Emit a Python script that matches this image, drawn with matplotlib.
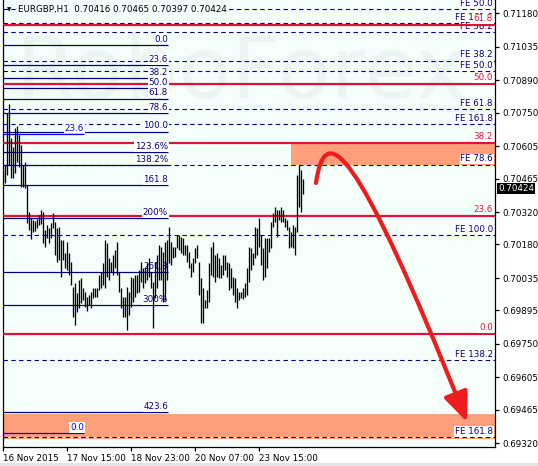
import matplotlib
matplotlib.use("Agg")
import matplotlib.pyplot as plt
import matplotlib.transforms as mtransforms
from matplotlib.patches import Rectangle, FancyArrowPatch, ArrowStyle
from matplotlib.path import Path

plt.rcParams['font.family'] = ['DejaVu Sans']

# ---------------- data ----------------
symbol = "EURGBP,H1"
last_ohlc = [0.70416, 0.70465, 0.70397, 0.70424]

highs = [
    0.70495, 0.70524, 0.70747, 0.70786, 0.70639, 0.70603, 0.70683, 0.70694, 0.70654, 0.70610,
    0.70524, 0.70538, 0.70437, 0.70322, 0.70293, 0.70286, 0.70282, 0.70290, 0.70308, 0.70329,
    0.70322, 0.70243, 0.70264, 0.70250, 0.70272, 0.70315, 0.70279, 0.70250, 0.70257, 0.70199,
    0.70199, 0.70142, 0.70192, 0.70142, 0.70106, 0.69997, 0.70012, 0.69969, 0.70026, 0.70034,
    0.69990, 0.69976, 0.69954, 0.69961, 0.69976, 0.69990, 0.69990, 0.69993, 0.70048, 0.70062,
    0.70099, 0.70199, 0.70185, 0.70120, 0.70106, 0.70134, 0.70156, 0.70192, 0.70062, 0.69990,
    0.69954, 0.69954, 0.69997, 0.69976, 0.70041, 0.70034, 0.70048, 0.70048, 0.70070, 0.70106,
    0.70077, 0.70077, 0.70099, 0.70120, 0.70062, 0.70019, 0.70106, 0.70134, 0.70178, 0.70170,
    0.70149, 0.70192, 0.70199, 0.70257, 0.70192, 0.70170, 0.70170, 0.70221, 0.70221, 0.70214,
    0.70207, 0.70178, 0.70178, 0.70149, 0.70099, 0.70120, 0.70163, 0.70178, 0.70106, 0.70034,
    0.69990, 0.69940, 0.69983, 0.70099, 0.70170, 0.70192, 0.70134, 0.70142, 0.70120, 0.70091,
    0.70134, 0.70134, 0.70106, 0.70099, 0.70077, 0.70041, 0.70034, 0.69990, 0.69976, 0.69976,
    0.69990, 0.70012, 0.70077, 0.70170, 0.70163, 0.70142, 0.70257, 0.70250, 0.70293, 0.70221,
    0.70163, 0.70207, 0.70207, 0.70207, 0.70279, 0.70315, 0.70343, 0.70329, 0.70329, 0.70343,
    0.70329, 0.70293, 0.70286, 0.70257, 0.70235, 0.70264, 0.70257, 0.70481, 0.70524, 0.70502,
    0.70465,
]
lows = [
    0.70449, 0.70445, 0.70481, 0.70524, 0.70469, 0.70469, 0.70488, 0.70538, 0.70516, 0.70430,
    0.70430, 0.70423, 0.70272, 0.70243, 0.70204, 0.70235, 0.70238, 0.70250, 0.70264, 0.70267,
    0.70185, 0.70170, 0.70207, 0.70185, 0.70207, 0.70250, 0.70134, 0.70106, 0.70113, 0.70041,
    0.70113, 0.70077, 0.70070, 0.70048, 0.70005, 0.69868, 0.69832, 0.69889, 0.69904, 0.69926,
    0.69940, 0.69911, 0.69892, 0.69918, 0.69904, 0.69947, 0.69954, 0.69954, 0.69983, 0.69993,
    0.70005, 0.69990, 0.70041, 0.70026, 0.70062, 0.70048, 0.70077, 0.70048, 0.69976, 0.69904,
    0.69868, 0.69868, 0.69810, 0.69875, 0.69911, 0.69932, 0.69954, 0.69969, 0.69976, 0.70019,
    0.69990, 0.70012, 0.70026, 0.70041, 0.69990, 0.69817, 0.69947, 0.69990, 0.70026, 0.70026,
    0.69932, 0.69940, 0.70026, 0.70099, 0.70091, 0.70120, 0.70127, 0.70163, 0.70156, 0.70142,
    0.70134, 0.70134, 0.70106, 0.70077, 0.70041, 0.70062, 0.70099, 0.70120, 0.69961, 0.69839,
    0.69839, 0.69904, 0.69904, 0.69932, 0.70048, 0.70041, 0.70019, 0.70041, 0.70034, 0.70034,
    0.70048, 0.70070, 0.70041, 0.69983, 0.69990, 0.69961, 0.69932, 0.69904, 0.69940, 0.69947,
    0.69944, 0.69954, 0.69961, 0.70019, 0.70070, 0.70091, 0.70120, 0.70134, 0.70170, 0.70091,
    0.70026, 0.70041, 0.70077, 0.70149, 0.70163, 0.70257, 0.70279, 0.70214, 0.70286, 0.70279,
    0.70279, 0.70257, 0.70243, 0.70163, 0.70170, 0.70163, 0.70134, 0.70235, 0.70343, 0.70322,
    0.70397,
]

date_labels = ["16 Nov 2015", "17 Nov 15:00", "18 Nov 23:00", "20 Nov 07:00", "23 Nov 15:00"]
date_positions = [0, 32, 64, 96, 128]

price_ticks = [0.71180, 0.71035, 0.70890, 0.70750, 0.70605, 0.70465, 0.70320,
               0.70180, 0.70035, 0.69895, 0.69750, 0.69605, 0.69465, 0.69320]

# Fibonacci retracement (navy), drawn over the left part
fibo_a_p0, fibo_a_p100, fibo_a_end = 0.71043, 0.70668, 82.35
fibo_a_levels = [0, 23.6, 38.2, 50, 61.8, 78.6, 100, 123.6, 138.2, 161.8, 200, 261.8, 300, 423.6]
fibo_a_labels = ["0.0", "23.6", "38.2", "50.0", "61.8", "78.6", "100.0", "123.6%", "138.2%",
                 "161.8", "200%", "261.8", "300%", "423.6"]

# Short blue fibo
fibo_b_p0, fibo_b_p100, fibo_b_end = 0.69363, 0.74851, 40.35
fibo_b_levels = [0, 23.6]
fibo_b_labels = ["0.0", "23.6"]

# Red fibo (full width)
fibo_r_p0, fibo_r_p100 = 0.69794, 0.71957
fibo_r_levels = [0, 23.6, 38.2, 50, 61.8]
fibo_r_labels = ["0.0", "23.6", "38.2", "50.0", "61.8"]

# Fibonacci expansion levels (dashed)
fe_prices = [0.71197, 0.71139, 0.71100, 0.70975, 0.70930, 0.70766, 0.70701,
             0.70525, 0.70221, 0.69679, 0.69347]
fe_labels = ["FE 50.0", "FE 161.8", "FE 38.2", "FE 38.2", "FE 50.0", "FE 61.8", "FE 161.8",
             "FE 78.6", "FE 100.0", "FE 138.2", "FE 161.8"]

# target zones
zone_upper = (143.85, 0.70525, 0.70620)   # start bar, low, high
zone_lower = (0.69338, 0.69447)

# forecast arrow (bar index, price)
arrow_pts = [(156.35, 0.70446), (160.85, 0.70718), (175.85, 0.70632), (231.85, 0.69412)]

# ---------------- style ----------------
NAVY = '#000080'
BLUE = '#0000FF'
RED = '#DC143C'
ORANGE = '#FFA07A'
BG = '#F5FFFA'
FS = 6.3

fig = plt.figure(figsize=(5.38, 4.66), dpi=100)
fig.patch.set_facecolor('white')
ax = fig.add_axes([3 / 538, 19 / 466, 492 / 538, 447 / 466])
ax.set_facecolor(BG)
XMAX = 245.85
ax.set_xlim(-0.15, XMAX)
ax.set_ylim(0.69304, 0.712375)

for s in ['left', 'bottom', 'right']:
    ax.spines[s].set_color('black')
    ax.spines[s].set_linewidth(0.9)
ax.spines['top'].set_visible(False)

# watermark
ax.text(0.484, 0.783, "RoboForex", transform=ax.transAxes, ha='center', va='baseline',
        fontsize=62, color='#EBF6F2', zorder=0.5)
ax.text(0.4736, 0.766, "ИСПОЛЬЗУЙ ВОЗМОЖНОСТИ · ПОЛУЧАЙ ПРИБЫЛЬ", transform=ax.transAxes,
        ha='left', va='top', fontsize=6.5, color='#E6F2EE', zorder=0.5)

# zones
ax.add_patch(Rectangle((zone_upper[0], zone_upper[1]), XMAX - zone_upper[0],
                       zone_upper[2] - zone_upper[1], color=ORANGE, lw=0, zorder=1.5))
ax.add_patch(Rectangle((-0.15, zone_lower[0]), XMAX + 0.15, zone_lower[1] - zone_lower[0],
                       color=ORANGE, lw=0, zorder=1.5))

lab_kw = dict(textcoords='offset points', xytext=(0, 0.9), ha='right', va='bottom',
              fontsize=FS)
box = dict(boxstyle='square,pad=0.08', fc='white', ec='none')

# FE dashed lines
label_x_right = 244.85
for p, lab in zip(fe_prices, fe_labels):
    ax.axhline(p, color=NAVY, lw=0.8, ls=(0, (4, 3)), gapcolor='white', zorder=2)
    ax.annotate(lab, xy=(label_x_right, p), color=NAVY, bbox=box, zorder=3, **lab_kw)

# red fibo
for lv, lab in zip(fibo_r_levels, fibo_r_labels):
    p = fibo_r_p0 + (fibo_r_p100 - fibo_r_p0) * lv / 100
    ax.axhline(p, color=RED, lw=1.6, zorder=4)
    ax.annotate(lab, xy=(label_x_right, p), color=RED, bbox=box, zorder=5, **lab_kw)

# navy fibo
for lv, lab in zip(fibo_a_levels, fibo_a_labels):
    p = fibo_a_p0 + (fibo_a_p100 - fibo_a_p0) * lv / 100
    ax.hlines(p, -0.15, fibo_a_end, color=NAVY, lw=0.9, zorder=2.5)
    ax.annotate(lab, xy=(fibo_a_end, p), color=NAVY, bbox=box, zorder=6, **lab_kw)

# blue fibo
for lv, lab in zip(fibo_b_levels, fibo_b_labels):
    p = fibo_b_p0 + (fibo_b_p100 - fibo_b_p0) * lv / 100
    ax.hlines(p, -0.15, fibo_b_end, color=BLUE, lw=0.9, zorder=2.5)
    ax.annotate(lab, xy=(fibo_b_end, p), color=BLUE, bbox=box, zorder=6, **lab_kw)

# price bars
xs = list(range(len(highs)))
ax.vlines(xs, lows, highs, color='black', lw=0.95, zorder=7)

# forecast arrow
path = Path(arrow_pts, [Path.MOVETO, Path.CURVE4, Path.CURVE4, Path.CURVE4])
arr = FancyArrowPatch(path=path, arrowstyle=ArrowStyle('-|>', head_length=1.0, head_width=0.42),
                      mutation_scale=18, color='#EE1C1C', lw=3, zorder=9)
ax.add_patch(arr)

# axes ticks
ax.yaxis.tick_right()
ax.set_yticks(price_ticks)
ax.set_yticklabels([f"{v:.5f}" for v in price_ticks])
ax.tick_params(axis='y', direction='out', length=3, width=0.9, labelsize=FS, pad=2,
               colors='black')
ax.set_xticks(date_positions)
ax.set_xticklabels(date_labels)
ax.tick_params(axis='x', direction='out', length=3, width=0.9, labelsize=FS, pad=2)
for t in ax.get_xticklabels():
    t.set_ha('left')

# current price label
trans = mtransforms.blended_transform_factory(ax.transAxes, ax.transData)
ax.annotate(f"{last_ohlc[3]:.5f}", xy=(1, last_ohlc[3]), xycoords=trans,
            xytext=(2.2, 0), textcoords='offset points', ha='left', va='center',
            fontsize=FS, color='white', annotation_clip=False,
            bbox=dict(boxstyle='square,pad=0.12', fc='black', ec='none'), zorder=10)

# title
ax.text(0.0075, 0.979, "\u25BC", transform=ax.transAxes, fontsize=4, ha='left',
        va='center', color='black', zorder=10)
o, h, l, c = last_ohlc
ax.text(0.0305, 0.979, f"{symbol}  {o:.5f} {h:.5f} {l:.5f} {c:.5f}", transform=ax.transAxes,
        fontsize=FS, ha='left', va='center', color='black', zorder=10,
        bbox=dict(boxstyle='square,pad=0.05', fc=BG, ec='none'))

fig.add_artist(Rectangle((0, 0), 1, 3 / 466, transform=fig.transFigure,
                         color='#E4E4E4', lw=0))

fig.savefig("out.png", dpi=100)
